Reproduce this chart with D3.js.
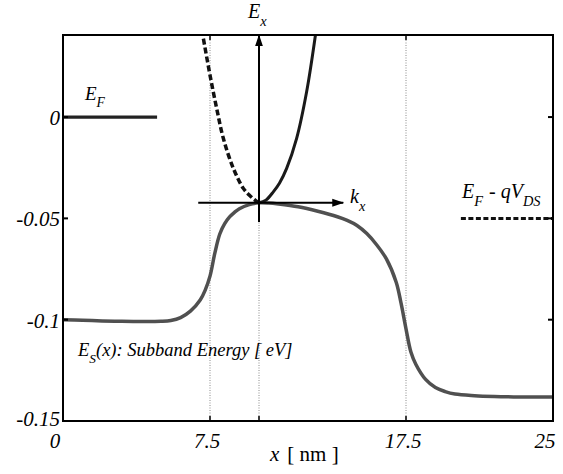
<!DOCTYPE html>
<html>
<head>
<meta charset="utf-8">
<script src="https://cdn.jsdelivr.net/npm/d3@7"></script>
<style>
  html, body { margin: 0; padding: 0; background: #fff; }
  svg { display: block; }
</style>
</head>
<body>
<svg id="chart" width="563" height="474" font-family="'Liberation Serif', 'Times New Roman', Times, serif"></svg>
<script>
// ---------------- data ----------------
const xDomain = [0, 25];
const yDomain = [-0.15, 0.0405];

const xTicks = [0, 7.5, 10, 17.5, 25];
const xTickLabels = ["0", "7.5", "", "17.5", "25"];
const yTicks = [0, -0.05, -0.1, -0.15];
const yTickLabels = ["0", "-0.05", "-0.1", "-0.15"];
const rightTicks = [0, -0.05, -0.1];
const topTicks = [7.5, 10, 17.5];

const guideX = [7.5, 10, 17.5];

// subband energy profile E_S(x) [eV]
const subbandX = [0, 1, 2, 3, 4, 5, 5.5, 6, 6.5, 7, 7.25, 7.5, 7.75, 8, 8.25, 8.5, 8.75, 9, 9.5, 10,
  10.5, 11, 12, 13, 14, 14.5, 15, 15.5, 16, 16.5, 17, 17.25, 17.5, 17.75, 18, 18.5, 19, 19.5, 20, 21, 22, 23, 24, 25];
const subbandE = [-0.1, -0.1003, -0.1006, -0.1008, -0.1009, -0.1008, -0.1004, -0.099, -0.0958, -0.0903, -0.0855,
  -0.0785, -0.067, -0.0577, -0.0526, -0.0493, -0.047, -0.0452, -0.0432, -0.0423,
  -0.0424, -0.0429, -0.0443, -0.0465, -0.0492, -0.051, -0.0535, -0.0575, -0.063, -0.07, -0.0815, -0.092,
  -0.1045, -0.116, -0.122, -0.1295, -0.1335, -0.1355, -0.1367, -0.1375, -0.1379, -0.1381, -0.1382, -0.1382];

// dispersion (solid, right branch)
const dispSolidX = [10, 10.35, 10.73, 11.05, 11.41, 11.92, 12.43, 12.88];
const dispSolidE = [-0.0423, -0.041, -0.0369, -0.0325, -0.0253, -0.0105, 0.0125, 0.0405];
// dispersion (dashed, left branch)
const dispDashX = [10, 9.8, 9.5, 9.2, 8.69, 8.18, 7.84, 7.5, 7.13];
const dispDashE = [-0.0423, -0.041, -0.0385, -0.0352, -0.0253, -0.0105, 0.0043, 0.0207, 0.0405];

// Fermi levels
const fermiSourceX = [0, 4.8];
const fermiSourceE = [0, 0];
const fermiDrainX = [20.3, 25];
const fermiDrainE = [-0.05, -0.05];

// k-E axes (arrows)
const kAxisX = [6.9, 14.3];
const kAxisE = [-0.0423, -0.0423];
const eAxisX = [10, 10];
const eAxisE = [-0.0518, 0.0403];

// ---------------- drawing ----------------
const W = 563, H = 474;
const m = { left: 63, right: 10, top: 35, bottom: 53 };
const svg = d3.select("#chart");

const x = d3.scaleLinear().domain(xDomain).range([m.left, W - m.right]);
const y = d3.scaleLinear().domain(yDomain).range([H - m.bottom, m.top]);

const defs = svg.append("defs");
defs.append("clipPath").attr("id", "plotclip")
  .append("rect").attr("x", m.left).attr("y", m.top)
  .attr("width", W - m.left - m.right).attr("height", H - m.top - m.bottom);
defs.append("marker").attr("id", "arrow")
  .attr("viewBox", "0 0 12 10").attr("refX", 11).attr("refY", 5)
  .attr("markerWidth", 12).attr("markerHeight", 10)
  .attr("markerUnits", "userSpaceOnUse").attr("orient", "auto")
  .append("path").attr("d", "M0,1 L12,5 L0,9 Z").attr("fill", "#000");

const g = svg.append("g").attr("clip-path", "url(#plotclip)");

// dotted guides
g.selectAll(".guide").data(guideX).enter().append("line")
  .attr("x1", d => x(d)).attr("x2", d => x(d))
  .attr("y1", y(yDomain[0])).attr("y2", y(yDomain[1]))
  .attr("stroke", "#8a8a8a").attr("stroke-width", 1).attr("stroke-dasharray", "1,1.5");

const line = d3.line().x(d => x(d[0])).y(d => y(d[1]));

// subband curve
g.append("path")
  .datum(d3.zip(subbandX, subbandE))
  .attr("d", line.curve(d3.curveCatmullRom.alpha(0.5)))
  .attr("fill", "none").attr("stroke", "#505050").attr("stroke-width", 3.5);

// Fermi levels
g.append("path").datum(d3.zip(fermiSourceX, fermiSourceE))
  .attr("d", d3.line().x(d => x(d[0])).y(d => y(d[1])))
  .attr("fill", "none").attr("stroke", "#222").attr("stroke-width", 3.2);
g.append("path").datum(d3.zip(fermiDrainX, fermiDrainE))
  .attr("d", d3.line().x(d => x(d[0])).y(d => y(d[1])))
  .attr("fill", "none").attr("stroke", "#111").attr("stroke-width", 3)
  .attr("stroke-dasharray", "5,2.5");

// arrows
svg.append("path").datum(d3.zip(kAxisX, kAxisE))
  .attr("d", d3.line().x(d => x(d[0])).y(d => y(d[1])))
  .attr("stroke", "#000").attr("stroke-width", 2).attr("marker-end", "url(#arrow)");
svg.append("path").datum(d3.zip(eAxisX, eAxisE))
  .attr("d", d3.line().x(d => x(d[0])).y(d => y(d[1])))
  .attr("stroke", "#000").attr("stroke-width", 2).attr("marker-end", "url(#arrow)");

// dispersion curves
g.append("path").datum(d3.zip(dispSolidX, dispSolidE))
  .attr("d", d3.line().x(d => x(d[0])).y(d => y(d[1])).curve(d3.curveCatmullRom.alpha(0.5)))
  .attr("fill", "none").attr("stroke", "#1a1a1a").attr("stroke-width", 3);
g.append("path").datum(d3.zip(dispDashX, dispDashE))
  .attr("d", d3.line().x(d => x(d[0])).y(d => y(d[1])).curve(d3.curveCatmullRom.alpha(0.5)))
  .attr("fill", "none").attr("stroke", "#111").attr("stroke-width", 3.5)
  .attr("stroke-dasharray", "6,3");

// frame
svg.append("rect").attr("x", m.left).attr("y", m.top)
  .attr("width", W - m.left - m.right).attr("height", H - m.top - m.bottom)
  .attr("fill", "none").attr("stroke", "#000").attr("stroke-width", 2);

// ticks (inward)
const tk = 5;
svg.selectAll(".ytick").data(yTicks).enter().append("line")
  .attr("x1", m.left).attr("x2", m.left + tk)
  .attr("y1", d => y(d)).attr("y2", d => y(d)).attr("stroke", "#000").attr("stroke-width", 2);
svg.selectAll(".rtick").data(rightTicks).enter().append("line")
  .attr("x1", W - m.right).attr("x2", W - m.right - tk)
  .attr("y1", d => y(d)).attr("y2", d => y(d)).attr("stroke", "#000").attr("stroke-width", 2);
svg.selectAll(".xtick").data(xTicks).enter().append("line")
  .attr("x1", d => x(d)).attr("x2", d => x(d))
  .attr("y1", H - m.bottom).attr("y2", H - m.bottom - tk).attr("stroke", "#000").attr("stroke-width", 1.5);
svg.selectAll(".ttick").data(topTicks).enter().append("line")
  .attr("x1", d => x(d)).attr("x2", d => x(d))
  .attr("y1", m.top).attr("y2", m.top + tk).attr("stroke", "#000").attr("stroke-width", 1.5);

// tick labels
const tickFont = 21;
svg.selectAll(".ylab").data(yTicks).enter().append("text")
  .attr("x", m.left - 3).attr("y", (d, i) => y(d) + (i === yTicks.length - 1 ? 5 : 8))
  .attr("text-anchor", "end").attr("font-size", tickFont).attr("font-style", "italic")
  .text((d, i) => yTickLabels[i]);
svg.selectAll(".xlab").data(xTicks).enter().append("text")
  .attr("x", (d, i) => x(d) + (i === 0 ? -8 : (i === xTicks.length - 1 ? -8 : -3)))
  .attr("y", H - m.bottom + 27)
  .attr("text-anchor", "middle").attr("font-size", tickFont).attr("font-style", "italic")
  .text((d, i) => xTickLabels[i]);

// x-axis title
const xt = svg.append("text").attr("x", 270).attr("y", 461).attr("font-size", 21);
xt.append("tspan").attr("font-style", "italic").text("x");
xt.append("tspan").attr("dx", 8).text("[ nm ]");

// annotation helper: main text + subscript
function label(px, py, size, parts) {
  const t = svg.append("text").attr("x", px).attr("y", py)
    .attr("font-size", size).attr("font-style", "italic");
  let sub = false;
  parts.forEach(p => {
    const s = t.append("tspan").text(p.t);
    if (p.sub && !sub) { s.attr("dy", size * 0.38).attr("font-size", size * 0.72); sub = true; }
    else if (p.sub) { s.attr("font-size", size * 0.72); }
    else if (!p.sub && sub) { s.attr("dy", -size * 0.38); sub = false; }
    if (p.dx) s.attr("dx", p.dx);
  });
  return t;
}

label(x(10) - 11, 18, 20, [{ t: "E" }, { t: "x", sub: true }]);
label(85, 100, 19, [{ t: "E" }, { t: "F", sub: true }]);
label(350, 203, 20, [{ t: "k" }, { t: "x", sub: true }]);
label(462, 198, 20, [{ t: "E" }, { t: "F", sub: true }, { t: " - qV", dx: 1 }, { t: "DS", sub: true }]);
label(78, 356, 18.5, [{ t: "E" }, { t: "S", sub: true }, { t: "(x): Subband Energy [ eV]" }]);
</script>
</body>
</html>
